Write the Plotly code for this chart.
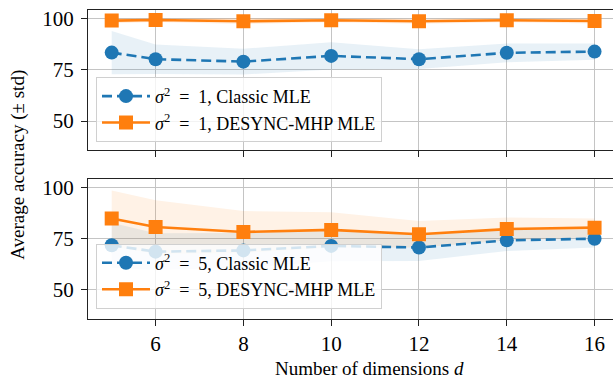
import plotly.graph_objects as go

dims = [5, 6, 8, 10, 12, 14, 16]

# sigma^2 = 1 panel
top_classic_mean = [83.4, 80.2, 79.0, 81.8, 80.2, 83.3, 83.9]
top_classic_std = [10.5, 7.2, 6.3, 6.6, 4.8, 4.6, 4.0]
top_desync_mean = [99.0, 99.3, 98.7, 99.2, 98.7, 99.2, 98.8]
top_desync_std = [1.3, 1.0, 1.4, 1.0, 1.2, 1.0, 1.2]

# sigma^2 = 5 panel
bot_classic_mean = [71.7, 68.6, 69.2, 71.4, 70.6, 74.1, 74.9]
bot_classic_std = [11.0, 9.0, 8.5, 7.5, 6.5, 5.2, 4.3]
bot_desync_mean = [84.8, 80.6, 78.2, 79.2, 77.1, 79.6, 80.3]
bot_desync_std = [13.6, 13.0, 10.2, 8.6, 6.5, 5.6, 4.5]

x_ticks = [6, 8, 10, 12, 14, 16]
y_ticks = [50, 75, 100]

BLUE = "#1f77b4"
ORANGE = "#ff7f0e"
FONT = "'Liberation Serif', 'Times New Roman', 'DejaVu Serif', serif"
SP = "\u2002"

fig = go.Figure()


def band(mean, std, color, xa, ya):
    up = [m + s for m, s in zip(mean, std)]
    lo = [m - s for m, s in zip(mean, std)]
    fig.add_trace(go.Scatter(
        x=dims + dims[::-1], y=up + lo[::-1], fill="toself",
        fillcolor=color, line=dict(width=0), mode="lines",
        showlegend=False, hoverinfo="skip", xaxis=xa, yaxis=ya))


def series(mean, name, color, symbol, dash, xa, ya, legend):
    fig.add_trace(go.Scatter(
        x=dims, y=mean, name=name, mode="lines+markers",
        line=dict(color=color, width=2.6, dash=dash),
        marker=dict(color=color, size=14, symbol=symbol),
        xaxis=xa, yaxis=ya, legend=legend))


def label(s, method):
    return f"<i>σ</i><sup>2</sup>{SP}={SP}{s}, {method}"


band(top_classic_mean, top_classic_std, "rgba(31,119,180,0.10)", "x", "y")
band(top_desync_mean, top_desync_std, "rgba(255,127,14,0.12)", "x", "y")
series(top_classic_mean, label(1, "Classic MLE"), BLUE, "circle", "10px,5px", "x", "y", "legend")
series(top_desync_mean, label(1, "DESYNC-MHP MLE"), ORANGE, "square", "solid", "x", "y", "legend")

band(bot_classic_mean, bot_classic_std, "rgba(31,119,180,0.10)", "x2", "y2")
band(bot_desync_mean, bot_desync_std, "rgba(255,127,14,0.10)", "x2", "y2")
series(bot_classic_mean, label(5, "Classic MLE"), BLUE, "circle", "10px,5px", "x2", "y2", "legend2")
series(bot_desync_mean, label(5, "DESYNC-MHP MLE"), ORANGE, "square", "solid", "x2", "y2", "legend2")

W, H, L = 613, 385, 88
xrange_ = [4.46, 16.42]
yrange_ = [36.0, 104.2]

axis_common = dict(showline=True, linecolor="#222222", linewidth=1.3,
                   ticks="outside", ticklen=6, tickwidth=1.2, tickcolor="#222222",
                   showgrid=True, gridcolor="#c4c4c4", gridwidth=1, zeroline=False,
                   tickfont=dict(family=FONT, size=21, color="black"))

legend_common = dict(xanchor="left", yanchor="bottom", x=(96 - L) / (W - L),
                     bgcolor="rgba(255,255,255,0.8)", bordercolor="#d0d0d0", borderwidth=1,
                     font=dict(family=FONT, size=18, color="black"), itemwidth=48,
                     tracegroupgap=0)

fig.update_layout(
    width=W, height=H, margin=dict(l=L, r=0, t=0, b=0),
    plot_bgcolor="white", paper_bgcolor="white",
    font=dict(family=FONT, color="black"),
    xaxis=dict(domain=[0, 1], anchor="y", range=xrange_, tickvals=x_ticks,
               showticklabels=False, mirror=True, **axis_common),
    yaxis=dict(domain=[1 - 148 / H, 1 - 7 / H], anchor="x", range=yrange_,
               tickvals=y_ticks, ticklabelstandoff=3, **axis_common),
    xaxis2=dict(domain=[0, 1], anchor="y2", range=xrange_, tickvals=x_ticks,
                mirror=True, ticklabelstandoff=0, **axis_common),
    yaxis2=dict(domain=[1 - 318 / H, 1 - 177 / H], anchor="x2", range=yrange_,
                tickvals=y_ticks, ticklabelstandoff=3, **axis_common),
    legend=dict(y=1 - 140 / H, **legend_common),
    legend2=dict(y=1 - 308 / H, **legend_common),
    annotations=[
        dict(text="Number of dimensions <i>d</i>", xref="paper", yref="paper",
             x=(369 - L) / (W - L), y=1 - 368 / H, showarrow=False,
             xanchor="center", yanchor="middle",
             font=dict(family=FONT, size=19, color="black")),
        dict(text="Average accuracy (± std)", xref="paper", yref="paper",
             x=(18 - L) / (W - L), y=1 - 163 / H, showarrow=False, textangle=-90,
             xanchor="center", yanchor="middle",
             font=dict(family=FONT, size=19, color="black")),
    ],
)

fig.write_html("out.html", config={"displayModeBar": False},
               post_script="document.body.style.margin='0px';document.body.style.padding='0px';")
